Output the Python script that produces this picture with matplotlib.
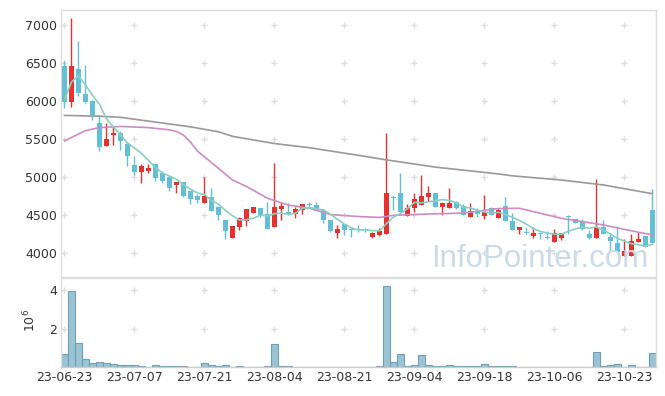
import numpy as np
import pandas as pd
import matplotlib
matplotlib.use("Agg")
import matplotlib.pyplot as plt

# Daily candles (KRW), 2023-06-23 .. 2023-10-27
dates = ["23-06-23", "23-07-07", "23-07-21", "23-08-04", "23-08-21",
         "23-09-04", "23-09-18", "23-10-06", "23-10-23"]
opens = [6460, 5990, 6420, 6090, 6000, 5710, 5410, 5550, 5575, 5430,
         5160, 5070, 5085, 5170, 5050, 5005, 4895, 4935, 4815, 4750,
         4660, 4740, 4610, 4435, 4200, 4345, 4425, 4530, 4590, 4510,
         4345, 4580, 4540, 4510, 4565, 4645, 4630, 4565, 4435, 4265,
         4380, 4315, 4310, 4310, 4215, 4240, 4245, 4740, 4785, 4490,
         4595, 4630, 4735, 4785, 4610, 4595, 4670, 4620, 4480, 4555,
         4490, 4590, 4465, 4620, 4425, 4305, 4280, 4230, 4265, 4200,
         4150, 4200, 4490, 4445, 4410, 4250, 4200, 4340, 4215, 4135,
         3965, 3965, 4150, 4225, 4565]
highs = [6520, 7090, 6790, 6470, 6010, 5820, 5710, 5670, 5600, 5460,
         5270, 5175, 5170, 5175, 5080, 5010, 4935, 4935, 4820, 4775,
         5005, 4850, 4615, 4440, 4360, 4470, 4580, 4605, 4595, 4675,
         5180, 4675, 4655, 4610, 4650, 4675, 4675, 4570, 4440, 4370,
         4385, 4325, 4370, 4330, 4270, 4335, 5575, 4760, 5050, 4645,
         4785, 5025, 4885, 4790, 4675, 4850, 4680, 4640, 4655, 4590,
         4765, 4600, 4590, 4740, 4520, 4345, 4340, 4340, 4270, 4290,
         4310, 4265, 4495, 4450, 4445, 4305, 4970, 4435, 4265, 4355,
         4180, 4250, 4280, 4225, 4840]
lows = [5910, 5920, 6060, 5970, 5750, 5340, 5410, 5420, 5355, 5150,
        5030, 4920, 5050, 4950, 4925, 4820, 4795, 4740, 4640, 4655,
        4660, 4550, 4435, 4180, 4200, 4300, 4355, 4520, 4480, 4315,
        4340, 4435, 4500, 4465, 4515, 4600, 4550, 4400, 4280, 4200,
        4235, 4205, 4270, 4275, 4195, 4230, 4245, 4565, 4535, 4490,
        4535, 4630, 4690, 4605, 4500, 4590, 4585, 4500, 4470, 4480,
        4445, 4495, 4460, 4420, 4300, 4250, 4255, 4200, 4180, 4185,
        4150, 4170, 4250, 4390, 4305, 4190, 4200, 4245, 4040, 4015,
        3965, 3965, 4145, 4075, 4125]
closes = [5990, 6460, 6110, 5990, 5820, 5400, 5500, 5575, 5480, 5280,
          5070, 5150, 5115, 4985, 4950, 4860, 4935, 4750, 4705, 4700,
          4750, 4555, 4500, 4295, 4355, 4465, 4575, 4600, 4490, 4315,
          4600, 4620, 4510, 4575, 4645, 4625, 4555, 4435, 4290, 4315,
          4300, 4305, 4300, 4300, 4265, 4290, 4785, 4720, 4535, 4590,
          4705, 4750, 4785, 4610, 4660, 4660, 4590, 4500, 4555, 4510,
          4545, 4500, 4565, 4425, 4305, 4340, 4260, 4265, 4250, 4195,
          4260, 4260, 4470, 4400, 4310, 4195, 4335, 4250, 4160, 4015,
          4025, 4160, 4180, 4075, 4130]
prev_close = [5300, 5700, 6600, 6500]
# volume in millions of shares
volume = [0.67, 3.97, 1.24, 0.41, 0.21, 0.26, 0.21, 0.16, 0.10, 0.10,
          0.10, 0.05, 0.0, 0.10, 0.05, 0.05, 0.05, 0.05, 0.0, 0.0,
          0.21, 0.10, 0.05, 0.10, 0.0, 0.05, 0.0, 0.0, 0.0, 0.05,
          1.19, 0.05, 0.05, 0.0, 0.0, 0.0, 0.0, 0.0, 0.0, 0.0,
          0.0, 0.0, 0.0, 0.0, 0.0, 0.05, 4.21, 0.26, 0.67, 0.05,
          0.10, 0.62, 0.10, 0.05, 0.05, 0.10, 0.05, 0.05, 0.05, 0.05,
          0.15, 0.05, 0.05, 0.05, 0.05, 0.0, 0.0, 0.0, 0.0, 0.0,
          0.0, 0.0, 0.0, 0.0, 0.0, 0.0, 0.78, 0.05, 0.10, 0.15,
          0.0, 0.10, 0.0, 0.0, 0.73]
# 20-day and long moving averages
ma20_idx = [0, 3, 5, 8, 12, 15, 16, 17, 18, 19, 21, 24, 26, 29, 32, 35, 38,
            42, 45, 47, 52, 57, 62, 65, 68, 71, 74, 77, 80, 84]
ma20 = [5475, 5610, 5650, 5665, 5650, 5620, 5600, 5550, 5460, 5340, 5190,
        4960, 4875, 4720, 4630, 4590, 4505, 4480, 4468, 4495, 4513, 4525,
        4585, 4588, 4522, 4456, 4412, 4369, 4310, 4237]
ma_long_idx = [0, 5, 8, 12, 18, 22, 24, 30, 35, 42, 46, 53, 62, 64, 71, 77, 84]
ma_long = [5810, 5800, 5785, 5735, 5660, 5595, 5535, 5440, 5385, 5285, 5225,
           5130, 5040, 5015, 4960, 4895, 4780]

RED = "#e8302f"
BLUE = "#62bfd6"
GRID = "#dddddd"
TXT = "#333333"

o = np.array(opens, float)
h = np.array(highs, float)
l = np.array(lows, float)
c = np.array(closes, float)
x = np.arange(len(c))
up = c >= o
colors = np.where(up, RED, BLUE)

ma5 = pd.Series(prev_close + closes).rolling(5).mean().to_numpy()[len(prev_close):]

fig = plt.figure(figsize=(6.65, 3.96), dpi=100)
ax = fig.add_axes([0.0917, 0.3005, 0.8947, 0.6742])
ax2 = fig.add_axes([0.0917, 0.0725, 0.8947, 0.2255], sharex=ax)

# price panel
ax.vlines(x, l, h, colors=colors, linewidth=1.0, zorder=2)
body = np.maximum(np.abs(c - o), 12)
ax.bar(x, body, bottom=np.minimum(o, c), width=0.76, color=colors,
       linewidth=0, zorder=3)
ax.plot(ma_long_idx, ma_long, color="#999999", lw=1.2, zorder=4)
ax.plot(ma20_idx, ma20, color="#cc8cc4", lw=1.2, zorder=4)
ax.plot(x, ma5, color="#8ccfc2", lw=1.2, zorder=4)

ax.set_xlim(-0.5, len(c) - 0.5)
ax.set_ylim(3684, 7197)
yt = np.arange(4000, 7001, 500)
ax.set_yticks(yt)
ax.set_yticklabels([str(v) for v in yt])
xt = np.arange(0, len(c), 10)
ax.set_xticks(xt)
gx, gy = np.meshgrid(xt, yt)
ax.scatter(gx.ravel(), gy.ravel(), marker="+", s=20, color=GRID,
           linewidths=1, zorder=1)
ax.text(0.9866, 0.037, "InfoPointer.com", transform=ax.transAxes,
        ha="right", va="baseline", fontsize=22.5, color="#c9dce6",
        family="Liberation Sans", zorder=5)

# volume panel
ax2.bar(x, volume, width=1.0, color="#9cc3d4", edgecolor="#6ca0b7",
        linewidth=0.8, zorder=2)
ax2.set_ylim(0, 4.63)
ax2.set_yticks([2, 4])
ax2.set_yticklabels(["2", "4"])
gx2, gy2 = np.meshgrid(xt, [2, 4])
ax2.scatter(gx2.ravel(), gy2.ravel(), marker="+", s=20, color=GRID,
            linewidths=1, zorder=1)
ax2.set_ylabel(r"$10^6$", fontsize=9, color=TXT)
ax2.yaxis.set_label_coords(-0.038, 0.52)
ax2.set_xticks(xt)
ax2.set_xticklabels(dates)

for a in (ax, ax2):
    for s in a.spines.values():
        s.set_color(GRID)
        s.set_linewidth(1)
    a.tick_params(length=0, labelsize=9, labelcolor=TXT, pad=3)
ax2.spines["bottom"].set_color("#cccccc")
ax.tick_params(axis="x", labelbottom=False)

fig.savefig("out.png", dpi=100)
